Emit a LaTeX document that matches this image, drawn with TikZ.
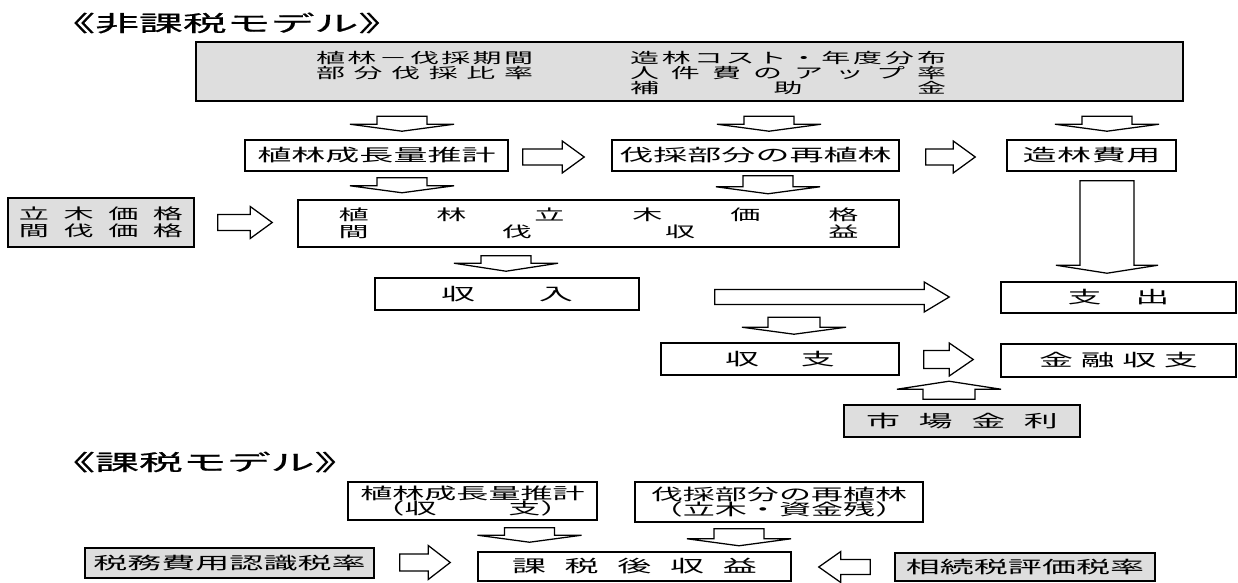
\documentclass[tikz,border=0pt]{standalone}
\usepackage{fontspec}
\newfontfamily\jp[FakeStretch=2.0]{Noto Sans CJK JP}
\newfontfamily\jptitle[FakeStretch=2.0,FakeBold=0.8]{Noto Sans CJK JP}
\usetikzlibrary{calc}
\newdimen\pxu
\pxu=0.025cm
% one line, its characters spread over a width given in px
\newcommand{\spread}[2]{\makebox[#1\pxu][s]{\spaceskip=0pt plus 1fil\relax #2}}
% hollow block arrow: shaft half width, head half width, head length (px), from, to
\newcommand{\blockarrow}[5]{%
  \coordinate (ba-a) at #4;
  \coordinate (ba-b) at #5;
  \coordinate (ba-h) at ($(ba-b)!#3*0.7113pt!(ba-a)$);
  \draw[barrow] ($(ba-a)!#1*0.7113pt!90:(ba-b)$) -- ($(ba-h)!#1*0.7113pt!90:(ba-b)$)
    -- ($(ba-h)!#2*0.7113pt!90:(ba-b)$) -- (ba-b)
    -- ($(ba-h)!#2*0.7113pt!-90:(ba-b)$) -- ($(ba-h)!#1*0.7113pt!-90:(ba-b)$)
    -- ($(ba-a)!#1*0.7113pt!-90:(ba-b)$) -- cycle;}

\begin{document}
\begin{tikzpicture}[x=0.025cm,y=-0.025cm,
  boxwh/.style 2 args={minimum width=#1*0.025cm,minimum height=#2*0.025cm},
  box/.style={draw,line width=1.1pt,inner sep=0pt,align=center,
    font=\jp\fontsize{12.1}{12.1}\selectfont},
  shade/.style={box,fill=black!13},
  twoline/.style={font=\jp\fontsize{10.7}{12.1}\selectfont},
  bottomtwo/.style={font=\jp\fontsize{11.4}{11}\selectfont},
  toptext/.style={inner sep=0pt,align=left,font=\jp\fontsize{10.3}{10.7}\selectfont},
  ttl/.style={anchor=west,inner sep=0pt,font=\jptitle\fontsize{15.6}{15.6}\selectfont},
  barrow/.style={draw,line width=0.9pt,fill=white}
]
\path[use as bounding box,fill=white] (0,0) rectangle (1238,583);

% non-taxed model
\node[ttl] (title1) at (51,23) {《非課税モデル》};
\node[shade,boxwh={987}{59}] (factors) at (689.5,71.5) {};
\node[toptext] (factorsL) at (424.5,66) {\spread{217}{植 林 － 伐 採 期 間}\\\spread{217}{部 分 伐 採 比 率}};
\node[toptext] (factorsR) at (788,73) {\spread{316}{造 林 コ ス ト ・ 年 度 分 布}\\\spread{316}{人 件 費 の ア ッ プ 率}\\\spread{316}{補 助 金}};

\node[box,boxwh={263}{31}] (grow) at (376.5,155.5) {植林成長量推計};
\node[box,boxwh={287}{31}] (replant) at (755.5,155.5) {伐採部分の再植林};
\node[box,boxwh={169}{31}] (cost) at (1091.5,155.5) {\spread{138}{造 林 費 用}};

\node[shade,twoline,boxwh={186}{49}] (price) at (101,222.5) {\spread{164}{立 木 価 格}\\\spread{164}{間 伐 価 格}};
\node[box,twoline,boxwh={601}{47}] (stand) at (598.5,223.5) {\spread{520}{植 林 立 木 価 格}\\\spread{520}{間 伐 収 益}};

\node[box,boxwh={264}{32}] (income) at (507,294) {\spread{132}{収 入}};
\node[box,boxwh={235}{31}] (expense) at (1118.5,297.5) {\spread{102}{支 出}};
\node[box,boxwh={238}{32}] (balance) at (780,359) {\spread{110}{収 支}};
\node[box,boxwh={235}{33}] (finance) at (1118.5,360.5) {\spread{159}{金 融 収 支}};
\node[shade,boxwh={236}{32}] (market) at (962,421) {\spread{192}{市 場 金 利}};

\blockarrow{25}{52}{7}{($(grow.north)+(25.5,-23)$)}{($(grow.north)+(25.5,-8)$)}
\blockarrow{25}{52}{7}{($(replant.north)+(13.5,-23)$)}{($(replant.north)+(13.5,-8)$)}
\blockarrow{25}{52}{7}{($(cost.north)+(15.5,-23)$)}{($(cost.north)+(15.5,-8)$)}
\blockarrow{8}{16}{22}{($(grow.east)+(14,1.5)$)}{($(replant.west)+(-27,1.5)$)}
\blockarrow{8}{16}{22}{($(replant.east)+(26,1.5)$)}{($(cost.west)+(-31,1.5)$)}
\blockarrow{25}{52}{7}{($(grow.south)+(25.5,6)$)}{($(grow.south)+(25.5,21)$)}
\blockarrow{25}{52}{7}{($(replant.south)+(12.5,4)$)}{($(replant.south)+(12.5,22)$)}
\blockarrow{8}{16}{22}{($(price.east)+(23,0)$)}{($(stand.west)+(-25,-1)$)}
\blockarrow{27}{51}{8}{($(cost.south)+(15.5,9)$)}{($(expense.north)+(-11.5,-8)$)}
\blockarrow{25}{52}{8}{($(stand.south)+(-92.5,8)$)}{($(income.north)+(-1,-6)$)}
\blockarrow{7.5}{15}{25}{($(income.east)+(75,3)$)}{($(expense.west)+(-51,-0.5)$)}
\blockarrow{26}{52}{7}{($(balance.north)+(14,-25)$)}{($(balance.north)+(14,-8)$)}
\blockarrow{9}{16.5}{24}{($(balance.east)+(24,0.5)$)}{($(finance.west)+(-27,-1)$)}
\blockarrow{26}{52}{8}{($(market.north)+(-13,-5)$)}{($(market.north)+(-13,-23)$)}

% taxed model
\node[ttl] (title2) at (51,462) {《課税モデル》};
\node[box,bottomtwo,boxwh={249}{38}] (grow2) at (472.5,501) {植林成長量推計\\\spread{200}{（収 支）}};
\node[box,bottomtwo,boxwh={288}{40}] (replant2) at (779,502) {伐採部分の再植林\\（立木・資金残）};
\node[shade,boxwh={289}{30}] (taxcost) at (229.5,563) {税務費用認識税率};
\node[box,boxwh={313}{29}] (aftertax) at (634.5,566.5) {\spread{245}{課 税 後 収 益}};
\node[shade,boxwh={260}{28}] (inherit) at (1025,567) {相続税評価税率};

\blockarrow{25}{52}{7}{($(grow2.south)+(57,7)$)}{($(aftertax.north)+(-105,-9)$)}
\blockarrow{25}{52}{7}{($(replant2.south)+(-40,6)$)}{($(replant2.south)+(-40,23)$)}
\blockarrow{8.5}{17}{22}{($(taxcost.east)+(25,-0.5)$)}{($(aftertax.west)+(-27,-4)$)}
\blockarrow{7.5}{15.5}{22}{($(inherit.west)+(-24,0)$)}{($(aftertax.east)+(27,0.5)$)}
\end{tikzpicture}
\end{document}
